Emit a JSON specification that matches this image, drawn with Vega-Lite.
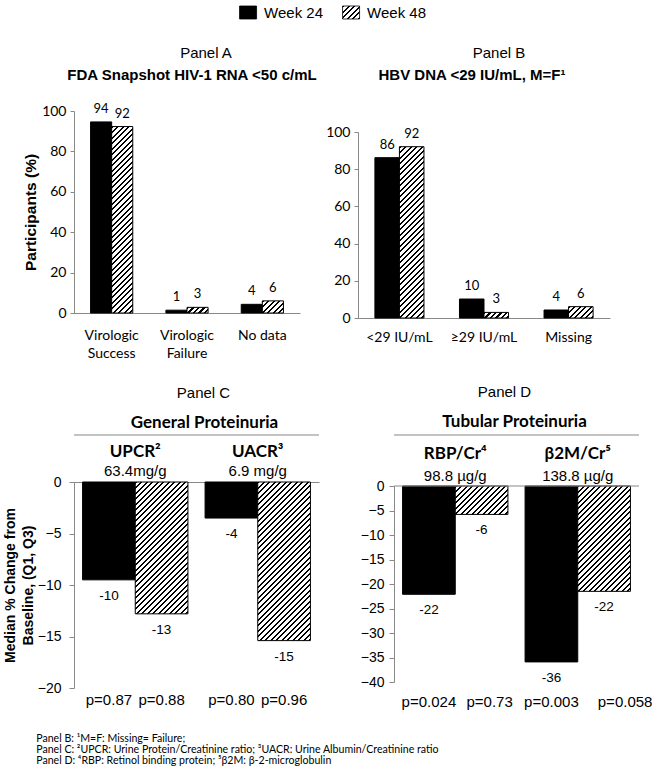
{
"$schema": "https://vega.github.io/schema/vega-lite/v6.json",
"background": "white",
"padding": {"left": 3, "top": 5, "right": 2, "bottom": 5},
"params": [{"name": "hs", "value": [
{"offset":0,"color":"#000"},{"offset":0.01,"color":"#000"},{"offset":0.01,"color":"#fff"},{"offset":0.025,"color":"#fff"},
{"offset":0.025,"color":"#000"},{"offset":0.035,"color":"#000"},{"offset":0.035,"color":"#fff"},{"offset":0.05,"color":"#fff"},
{"offset":0.05,"color":"#000"},{"offset":0.06,"color":"#000"},{"offset":0.06,"color":"#fff"},{"offset":0.075,"color":"#fff"},
{"offset":0.075,"color":"#000"},{"offset":0.085,"color":"#000"},{"offset":0.085,"color":"#fff"},{"offset":0.1,"color":"#fff"},
{"offset":0.1,"color":"#000"},{"offset":0.11,"color":"#000"},{"offset":0.11,"color":"#fff"},{"offset":0.125,"color":"#fff"},
{"offset":0.125,"color":"#000"},{"offset":0.135,"color":"#000"},{"offset":0.135,"color":"#fff"},{"offset":0.15,"color":"#fff"},
{"offset":0.15,"color":"#000"},{"offset":0.16,"color":"#000"},{"offset":0.16,"color":"#fff"},{"offset":0.175,"color":"#fff"},
{"offset":0.175,"color":"#000"},{"offset":0.185,"color":"#000"},{"offset":0.185,"color":"#fff"},{"offset":0.2,"color":"#fff"},
{"offset":0.2,"color":"#000"},{"offset":0.21,"color":"#000"},{"offset":0.21,"color":"#fff"},{"offset":0.225,"color":"#fff"},
{"offset":0.225,"color":"#000"},{"offset":0.235,"color":"#000"},{"offset":0.235,"color":"#fff"},{"offset":0.25,"color":"#fff"},
{"offset":0.25,"color":"#000"},{"offset":0.26,"color":"#000"},{"offset":0.26,"color":"#fff"},{"offset":0.275,"color":"#fff"},
{"offset":0.275,"color":"#000"},{"offset":0.285,"color":"#000"},{"offset":0.285,"color":"#fff"},{"offset":0.3,"color":"#fff"},
{"offset":0.3,"color":"#000"},{"offset":0.31,"color":"#000"},{"offset":0.31,"color":"#fff"},{"offset":0.325,"color":"#fff"},
{"offset":0.325,"color":"#000"},{"offset":0.335,"color":"#000"},{"offset":0.335,"color":"#fff"},{"offset":0.35,"color":"#fff"},
{"offset":0.35,"color":"#000"},{"offset":0.36,"color":"#000"},{"offset":0.36,"color":"#fff"},{"offset":0.375,"color":"#fff"},
{"offset":0.375,"color":"#000"},{"offset":0.385,"color":"#000"},{"offset":0.385,"color":"#fff"},{"offset":0.4,"color":"#fff"},
{"offset":0.4,"color":"#000"},{"offset":0.41,"color":"#000"},{"offset":0.41,"color":"#fff"},{"offset":0.425,"color":"#fff"},
{"offset":0.425,"color":"#000"},{"offset":0.435,"color":"#000"},{"offset":0.435,"color":"#fff"},{"offset":0.45,"color":"#fff"},
{"offset":0.45,"color":"#000"},{"offset":0.46,"color":"#000"},{"offset":0.46,"color":"#fff"},{"offset":0.475,"color":"#fff"},
{"offset":0.475,"color":"#000"},{"offset":0.485,"color":"#000"},{"offset":0.485,"color":"#fff"},{"offset":0.5,"color":"#fff"},
{"offset":0.5,"color":"#000"},{"offset":0.51,"color":"#000"},{"offset":0.51,"color":"#fff"},{"offset":0.525,"color":"#fff"},
{"offset":0.525,"color":"#000"},{"offset":0.535,"color":"#000"},{"offset":0.535,"color":"#fff"},{"offset":0.55,"color":"#fff"},
{"offset":0.55,"color":"#000"},{"offset":0.56,"color":"#000"},{"offset":0.56,"color":"#fff"},{"offset":0.575,"color":"#fff"},
{"offset":0.575,"color":"#000"},{"offset":0.585,"color":"#000"},{"offset":0.585,"color":"#fff"},{"offset":0.6,"color":"#fff"},
{"offset":0.6,"color":"#000"},{"offset":0.61,"color":"#000"},{"offset":0.61,"color":"#fff"},{"offset":0.625,"color":"#fff"},
{"offset":0.625,"color":"#000"},{"offset":0.635,"color":"#000"},{"offset":0.635,"color":"#fff"},{"offset":0.65,"color":"#fff"},
{"offset":0.65,"color":"#000"},{"offset":0.66,"color":"#000"},{"offset":0.66,"color":"#fff"},{"offset":0.675,"color":"#fff"},
{"offset":0.675,"color":"#000"},{"offset":0.685,"color":"#000"},{"offset":0.685,"color":"#fff"},{"offset":0.7,"color":"#fff"},
{"offset":0.7,"color":"#000"},{"offset":0.71,"color":"#000"},{"offset":0.71,"color":"#fff"},{"offset":0.725,"color":"#fff"},
{"offset":0.725,"color":"#000"},{"offset":0.735,"color":"#000"},{"offset":0.735,"color":"#fff"},{"offset":0.75,"color":"#fff"},
{"offset":0.75,"color":"#000"},{"offset":0.76,"color":"#000"},{"offset":0.76,"color":"#fff"},{"offset":0.775,"color":"#fff"},
{"offset":0.775,"color":"#000"},{"offset":0.785,"color":"#000"},{"offset":0.785,"color":"#fff"},{"offset":0.8,"color":"#fff"},
{"offset":0.8,"color":"#000"},{"offset":0.81,"color":"#000"},{"offset":0.81,"color":"#fff"},{"offset":0.825,"color":"#fff"},
{"offset":0.825,"color":"#000"},{"offset":0.835,"color":"#000"},{"offset":0.835,"color":"#fff"},{"offset":0.85,"color":"#fff"},
{"offset":0.85,"color":"#000"},{"offset":0.86,"color":"#000"},{"offset":0.86,"color":"#fff"},{"offset":0.875,"color":"#fff"},
{"offset":0.875,"color":"#000"},{"offset":0.885,"color":"#000"},{"offset":0.885,"color":"#fff"},{"offset":0.9,"color":"#fff"},
{"offset":0.9,"color":"#000"},{"offset":0.91,"color":"#000"},{"offset":0.91,"color":"#fff"},{"offset":0.925,"color":"#fff"},
{"offset":0.925,"color":"#000"},{"offset":0.935,"color":"#000"},{"offset":0.935,"color":"#fff"},{"offset":0.95,"color":"#fff"},
{"offset":0.95,"color":"#000"},{"offset":0.96,"color":"#000"},{"offset":0.96,"color":"#fff"},{"offset":0.975,"color":"#fff"},
{"offset":0.975,"color":"#000"},{"offset":0.985,"color":"#000"},{"offset":0.985,"color":"#fff"},{"offset":1,"color":"#fff"}
]}],
"title": {
  "text": ["Panel B: ¹M=F: Missing= Failure;", "Panel C: ²UPCR: Urine Protein/Creatinine ratio; ³UACR: Urine Albumin/Creatinine ratio", "Panel D: ⁴RBP: Retinol binding protein; ⁵β2M: β-2-microglobulin"],
  "orient": "bottom", "anchor": "start", "frame": "bounds",
  "font": "Lato", "fontSize": 10.6, "fontWeight": "normal", "lineHeight": 10.8, "color": "#000",
  "dx": 33, "offset": 24
},
"config": {
  "view": {"stroke": null},
  "axis": {"grid": false, "domainColor": "#888", "tickColor": "#888", "labelColor": "#000", "titleColor": "#000"},
  "text": {"font": "Liberation Sans", "color": "#000"}
},
"spacing": 25,
"resolve": {"scale": {"xOffset": "independent"}},
"vconcat": [
  {
    "width": 412, "height": 13,
    "data": {"values": [{"week": "Week 24"}, {"week": "Week 48"}]},
    "encoding": {"x": {"field": "week", "type": "nominal", "axis": null, "scale": {"paddingInner": 0, "paddingOuter": 1, "align": 0.595}}},
    "layer": [
      {"mark": {"type": "bar", "width": 17, "stroke": "#000", "strokeWidth": 0.8,
        "fill": {"expr": "datum.week == 'Week 24' ? '#000' : {gradient: 'linear', x1: 0, y1: 0, x2: 8.166, y2: 6.245, stops: hs}"}}},
      {"mark": {"type": "text", "align": "left", "dx": 16, "fontSize": 15, "font": "Liberation Sans"}, "encoding": {"text": {"field": "week"}}}
    ]
  },
  {
    "resolve": {"scale": {"xOffset": "independent"}},
    "hconcat": [
      {
        "width": 226, "height": 202,
        "title": {"text": "Panel A", "anchor": "middle", "frame": "group", "dx": 19,
          "font": "Liberation Sans", "fontSize": 15, "fontWeight": "normal", "color": "#000", "offset": 7},
        "data": {"values": [
          {"cat": "Virologic Success", "week": "Week 24", "value": 94.6, "label": "94"},
          {"cat": "Virologic Success", "week": "Week 48", "value": 92.3, "label": "92"},
          {"cat": "Virologic Failure", "week": "Week 24", "value": 1.4, "label": "1"},
          {"cat": "Virologic Failure", "week": "Week 48", "value": 2.8, "label": "3"},
          {"cat": "No data", "week": "Week 24", "value": 4.3, "label": "4"},
          {"cat": "No data", "week": "Week 48", "value": 6.0, "label": "6"}
        ]},
        "encoding": {
          "y": {"field": "value", "type": "quantitative", "scale": {"domain": [0, 100]},
            "axis": {"values": [0, 20, 40, 60, 80, 100], "title": ["", "Participants (%)"], "titleFont": "Liberation Sans", "titleFontWeight": "bold", "titleFontSize": 15.5, "titleLineHeight": 18, "titlePadding": 3,
              "tickSize": 4, "labelPadding": 4, "labelFont": "Lato", "labelFontSize": 14}}
        },
        "layer": [
          {"mark": {"type": "bar", "stroke": "#000", "strokeWidth": 1,
            "fill": {"expr": "datum.week == 'Week 24' ? '#000' : {gradient: 'linear', x1: 0, y1: 0, x2: 4640 / (444.8 + pow(2.02 * datum.value, 2)), y2: 444.4 * datum.value / (444.8 + pow(2.02 * datum.value, 2)), stops: hs}"}},
            "encoding": {
              "x": {"field": "cat", "type": "nominal", "sort": ["Virologic Success", "Virologic Failure", "No data"],
                "scale": {"paddingInner": 0.44, "paddingOuter": 0.22},
                "axis": {"title": null, "labelAngle": 0, "ticks": false, "labelFont": "Lato", "labelFontSize": 14, "labelPadding": 15, "labelLineHeight": 18,
                  "labelExpr": "datum.label == 'No data' ? datum.label : split(datum.label, ' ')"}},
              "xOffset": {"field": "week", "type": "nominal", "sort": ["Week 24", "Week 48"], "scale": {"paddingInner": 0, "paddingOuter": 0}}
            }},
          {"mark": {"type": "text", "baseline": "alphabetic", "dy": -9, "font": "Lato", "fontSize": 13},
            "encoding": {
              "x": {"field": "cat", "type": "nominal", "sort": ["Virologic Success", "Virologic Failure", "No data"]},
              "xOffset": {"field": "week", "type": "nominal", "sort": ["Week 24", "Week 48"]},
              "text": {"field": "label"}}},
          {"transform": [{"filter": "datum.cat == 'Virologic Success' && datum.week == 'Week 24'"}],
            "mark": {"type": "text", "baseline": "middle", "dy": -36, "dx": 5, "font": "Liberation Sans", "fontWeight": "bold", "fontSize": 15},
            "encoding": {"y": {"datum": 100}, "text": {"value": "FDA Snapshot HIV-1 RNA <50 c/mL"}}}
        ]
      },
      {
        "width": 252, "height": 207,
        "title": {"text": "Panel B", "anchor": "middle", "frame": "group", "dx": 15,
          "font": "Liberation Sans", "fontSize": 15, "fontWeight": "normal", "color": "#000", "offset": 7},
        "data": {"values": [
          {"cat": "<29 IU/mL", "week": "Week 24", "value": 86.2, "label": "86"},
          {"cat": "<29 IU/mL", "week": "Week 48", "value": 92.1, "label": "92"},
          {"cat": "≥29 IU/mL", "week": "Week 24", "value": 10.2, "label": "10"},
          {"cat": "≥29 IU/mL", "week": "Week 48", "value": 3.0, "label": "3"},
          {"cat": "Missing", "week": "Week 24", "value": 4.3, "label": "4"},
          {"cat": "Missing", "week": "Week 48", "value": 6.1, "label": "6"}
        ]},
        "encoding": {
          "y": {"field": "value", "type": "quantitative", "scale": {"domain": [0, 100], "range": [207, 21]},
            "axis": {"values": [0, 20, 40, 60, 80, 100], "title": null, "tickSize": 4, "labelPadding": 4, "labelFont": "Lato", "labelFontSize": 14}}
        },
        "layer": [
          {"mark": {"type": "bar", "stroke": "#000", "strokeWidth": 1,
            "fill": {"expr": "datum.week == 'Week 24' ? '#000' : {gradient: 'linear', x1: 0, y1: 0, x2: 5390 / (600.25 + pow(1.86 * datum.value, 2)), y2: 409.2 * datum.value / (600.25 + pow(1.86 * datum.value, 2)), stops: hs}"}},
            "encoding": {
              "x": {"field": "cat", "type": "nominal", "sort": ["<29 IU/mL", "≥29 IU/mL", "Missing"],
                "scale": {"paddingInner": 0.42, "paddingOuter": 0.2},
                "axis": {"title": null, "labelAngle": 0, "ticks": false, "labelFont": "Lato", "labelFontSize": 14, "labelPadding": 12}},
              "xOffset": {"field": "week", "type": "nominal", "sort": ["Week 24", "Week 48"], "scale": {"paddingInner": 0, "paddingOuter": 0}}
            }},
          {"mark": {"type": "text", "baseline": "alphabetic", "dy": -9, "font": "Lato", "fontSize": 13},
            "encoding": {
              "x": {"field": "cat", "type": "nominal", "sort": ["<29 IU/mL", "≥29 IU/mL", "Missing"]},
              "xOffset": {"field": "week", "type": "nominal", "sort": ["Week 24", "Week 48"]},
              "text": {"field": "label"}}},
          {"transform": [{"filter": "datum.cat == '<29 IU/mL' && datum.week == 'Week 24'"}],
            "mark": {"type": "text", "baseline": "middle", "dy": -57, "dx": -12, "font": "Liberation Sans", "fontWeight": "bold", "fontSize": 15},
            "encoding": {"y": {"datum": 100}, "text": {"value": "HBV DNA <29 IU/mL, M=F¹"}}}
        ]
      }
    ],
    "spacing": 7
  },
  {
    "resolve": {"scale": {"xOffset": "independent"}},
    "hconcat": [
      {
        "width": 245, "height": 206,
        "title": {"text": "Panel C", "anchor": "middle", "frame": "group", "dx": 7, "font": "Liberation Sans", "fontSize": 15, "fontWeight": "normal", "color": "#000", "offset": 13},
        "data": {"values": [
          {"group": "UPCR²", "baseline": "63.4mg/g", "section": "General Proteinuria", "week": "Week 24", "value": -9.5, "label": "-10", "p": "p=0.87"},
          {"group": "UPCR²", "baseline": "63.4mg/g", "section": "General Proteinuria", "week": "Week 48", "value": -12.8, "label": "-13", "p": "p=0.88"},
          {"group": "UACR³", "baseline": "6.9 mg/g", "section": "General Proteinuria", "week": "Week 24", "value": -3.5, "label": "-4", "p": "p=0.80"},
          {"group": "UACR³", "baseline": "6.9 mg/g", "section": "General Proteinuria", "week": "Week 48", "value": -15.4, "label": "-15", "p": "p=0.96"}
        ]},
        "encoding": {
          "y": {"field": "value", "type": "quantitative", "scale": {"domain": [-20, 0]},
            "axis": {"values": [0, -5, -10, -15, -20], "title": ["Median % Change from", "Baseline, (Q1, Q3)"], "titleFont": "Liberation Sans", "titleFontWeight": "bold", "titleFontSize": 14, "titleLineHeight": 18, "titlePadding": 2,
              "tickSize": 5, "labelPadding": 8, "labelFont": "Liberation Sans", "labelFontSize": 14}}
        },
        "layer": [
          {"mark": {"type": "bar", "stroke": "#000", "strokeWidth": 1,
            "fill": {"expr": "datum.week == 'Week 24' ? '#000' : {gradient: 'linear', x1: 0, y1: 0, x2: 11594 / (2777.3 + pow(10.3 * datum.value, 2)), y2: 2266 * abs(datum.value) / (2777.3 + pow(10.3 * datum.value, 2)), stops: hs}"}},
            "encoding": {
              "x": {"field": "group", "type": "nominal", "sort": ["UPCR²", "UACR³"], "scale": {"paddingInner": 0.14, "paddingOuter": 0.07},
                "axis": {"orient": "top", "labels": false, "ticks": false, "title": null}},
              "xOffset": {"field": "week", "type": "nominal", "sort": ["Week 24", "Week 48"], "scale": {"paddingInner": 0, "paddingOuter": 0}}
            }},
          {"mark": {"type": "text", "baseline": "top", "dy": 9, "fontSize": 13.5},
            "encoding": {"x": {"field": "group", "type": "nominal", "sort": ["UPCR²", "UACR³"]}, "xOffset": {"field": "week", "type": "nominal", "sort": ["Week 24", "Week 48"]}, "text": {"field": "label"}}},
          {"mark": {"type": "text", "baseline": "middle", "dy": 12, "fontSize": 15},
            "encoding": {"x": {"field": "group", "type": "nominal", "sort": ["UPCR²", "UACR³"]}, "xOffset": {"field": "week", "type": "nominal", "sort": ["Week 24", "Week 48"]}, "y": {"datum": -20}, "text": {"field": "p"}}},
          {"transform": [{"filter": "datum.week == 'Week 24'"}],
            "mark": {"type": "text", "baseline": "middle", "dy": -11, "fontSize": 15},
            "encoding": {"x": {"field": "group", "type": "nominal", "sort": ["UPCR²", "UACR³"]}, "y": {"datum": 0}, "text": {"field": "baseline"}}},
          {"transform": [{"filter": "datum.week == 'Week 24'"}],
            "mark": {"type": "text", "baseline": "middle", "dy": -30, "font": "Lato", "fontWeight": "bold", "fontSize": 17},
            "encoding": {"x": {"field": "group", "type": "nominal", "sort": ["UPCR²", "UACR³"]}, "y": {"datum": 0}, "text": {"field": "group"}}},
          {"transform": [{"filter": "datum.week == 'Week 24' && datum.group == 'UPCR²'"}],
            "mark": {"type": "text", "baseline": "middle", "dy": -59, "dx": 8, "font": "Lato", "fontWeight": "bold", "fontSize": 17},
            "encoding": {"y": {"datum": 0}, "text": {"field": "section"}}},
          {"transform": [{"filter": "datum.week == 'Week 24' && datum.group == 'UPCR²'"}],
            "mark": {"type": "rule", "yOffset": -47, "color": "#888", "strokeWidth": 1.2},
            "encoding": {"y": {"datum": 0}}}
        ]
      },
      {
        "width": 245, "height": 200,
        "title": {"text": "Panel D", "anchor": "middle", "frame": "group", "dx": -12, "font": "Liberation Sans", "fontSize": 15, "fontWeight": "normal", "color": "#000", "offset": 13},
        "data": {"values": [
          {"group": "RBP/Cr⁴", "baseline": "98.8 µg/g", "section": "Tubular Proteinuria", "week": "Week 24", "value": -22.1, "label": "-22", "p": "p=0.024"},
          {"group": "RBP/Cr⁴", "baseline": "98.8 µg/g", "section": "Tubular Proteinuria", "week": "Week 48", "value": -5.8, "label": "-6", "p": "p=0.73"},
          {"group": "β2M/Cr⁵", "baseline": "138.8 µg/g", "section": "Tubular Proteinuria", "week": "Week 24", "value": -35.9, "label": "-36", "p": "p=0.003"},
          {"group": "β2M/Cr⁵", "baseline": "138.8 µg/g", "section": "Tubular Proteinuria", "week": "Week 48", "value": -21.5, "label": "-22", "p": "p=0.058"}
        ]},
        "encoding": {
          "y": {"field": "value", "type": "quantitative", "scale": {"domain": [-40, 0], "range": [200, 4]},
            "axis": {"values": [0, -5, -10, -15, -20, -25, -30, -35, -40], "title": null,
              "tickSize": 5, "labelPadding": 5, "labelFont": "Liberation Sans", "labelFontSize": 14}}
        },
        "layer": [
          {"mark": {"type": "bar", "stroke": "#000", "strokeWidth": 1,
            "fill": {"expr": "datum.week == 'Week 24' ? '#000' : {gradient: 'linear', x1: 0, y1: 0, x2: 11594 / (2777.3 + pow(4.9 * datum.value, 2)), y2: 1078 * abs(datum.value) / (2777.3 + pow(4.9 * datum.value, 2)), stops: hs}"}},
            "encoding": {
              "x": {"field": "group", "type": "nominal", "sort": ["RBP/Cr⁴", "β2M/Cr⁵"], "scale": {"paddingInner": 0.14, "paddingOuter": 0.07}, "axis": null},
              "xOffset": {"field": "week", "type": "nominal", "sort": ["Week 24", "Week 48"], "scale": {"paddingInner": 0, "paddingOuter": 0}}
            }},
          {"transform": [{"filter": "datum.week == 'Week 24' && datum.group == 'RBP/Cr⁴'"}],
            "mark": {"type": "rule", "color": "#888", "strokeWidth": 1},
            "encoding": {"y": {"datum": 0}}},
          {"mark": {"type": "text", "baseline": "top", "dy": 9, "fontSize": 13.5},
            "encoding": {"x": {"field": "group", "type": "nominal", "sort": ["RBP/Cr⁴", "β2M/Cr⁵"]}, "xOffset": {"field": "week", "type": "nominal", "sort": ["Week 24", "Week 48"]}, "text": {"field": "label"}}},
          {"transform": [{"filter": "datum.week == 'Week 24'"}],
            "mark": {"type": "text", "baseline": "middle", "dy": 20, "fontSize": 15},
            "encoding": {"x": {"field": "group", "type": "nominal", "sort": ["RBP/Cr⁴", "β2M/Cr⁵"]}, "xOffset": {"field": "week", "type": "nominal", "sort": ["Week 24", "Week 48"]}, "y": {"datum": -40}, "text": {"field": "p"}}},
          {"transform": [{"filter": "datum.week == 'Week 48' && datum.group == 'RBP/Cr⁴'"}],
            "mark": {"type": "text", "baseline": "middle", "dy": 20, "dx": 8, "fontSize": 15},
            "encoding": {"x": {"field": "group", "type": "nominal", "sort": ["RBP/Cr⁴", "β2M/Cr⁵"]}, "xOffset": {"field": "week", "type": "nominal", "sort": ["Week 24", "Week 48"]}, "y": {"datum": -40}, "text": {"field": "p"}}},
          {"transform": [{"filter": "datum.week == 'Week 48' && datum.group == 'β2M/Cr⁵'"}],
            "mark": {"type": "text", "baseline": "middle", "dy": 20, "dx": 21, "fontSize": 15},
            "encoding": {"x": {"field": "group", "type": "nominal", "sort": ["RBP/Cr⁴", "β2M/Cr⁵"]}, "xOffset": {"field": "week", "type": "nominal", "sort": ["Week 24", "Week 48"]}, "y": {"datum": -40}, "text": {"field": "p"}}},
          {"transform": [{"filter": "datum.week == 'Week 24'"}],
            "mark": {"type": "text", "baseline": "middle", "dy": -10, "fontSize": 15},
            "encoding": {"x": {"field": "group", "type": "nominal", "sort": ["RBP/Cr⁴", "β2M/Cr⁵"]}, "y": {"datum": 0}, "text": {"field": "baseline"}}},
          {"transform": [{"filter": "datum.week == 'Week 24'"}],
            "mark": {"type": "text", "baseline": "middle", "dy": -32, "font": "Lato", "fontWeight": "bold", "fontSize": 17},
            "encoding": {"x": {"field": "group", "type": "nominal", "sort": ["RBP/Cr⁴", "β2M/Cr⁵"]}, "y": {"datum": 0}, "text": {"field": "group"}}},
          {"transform": [{"filter": "datum.week == 'Week 24' && datum.group == 'RBP/Cr⁴'"}],
            "mark": {"type": "text", "baseline": "middle", "dy": -64, "dx": -2, "font": "Lato", "fontWeight": "bold", "fontSize": 17},
            "encoding": {"y": {"datum": 0}, "text": {"field": "section"}}},
          {"transform": [{"filter": "datum.week == 'Week 24' && datum.group == 'RBP/Cr⁴'"}],
            "mark": {"type": "rule", "yOffset": -51, "color": "#888", "strokeWidth": 1.2},
            "encoding": {"y": {"datum": 0}}}
        ]
      }
    ],
    "spacing": 40
  }
]
}
